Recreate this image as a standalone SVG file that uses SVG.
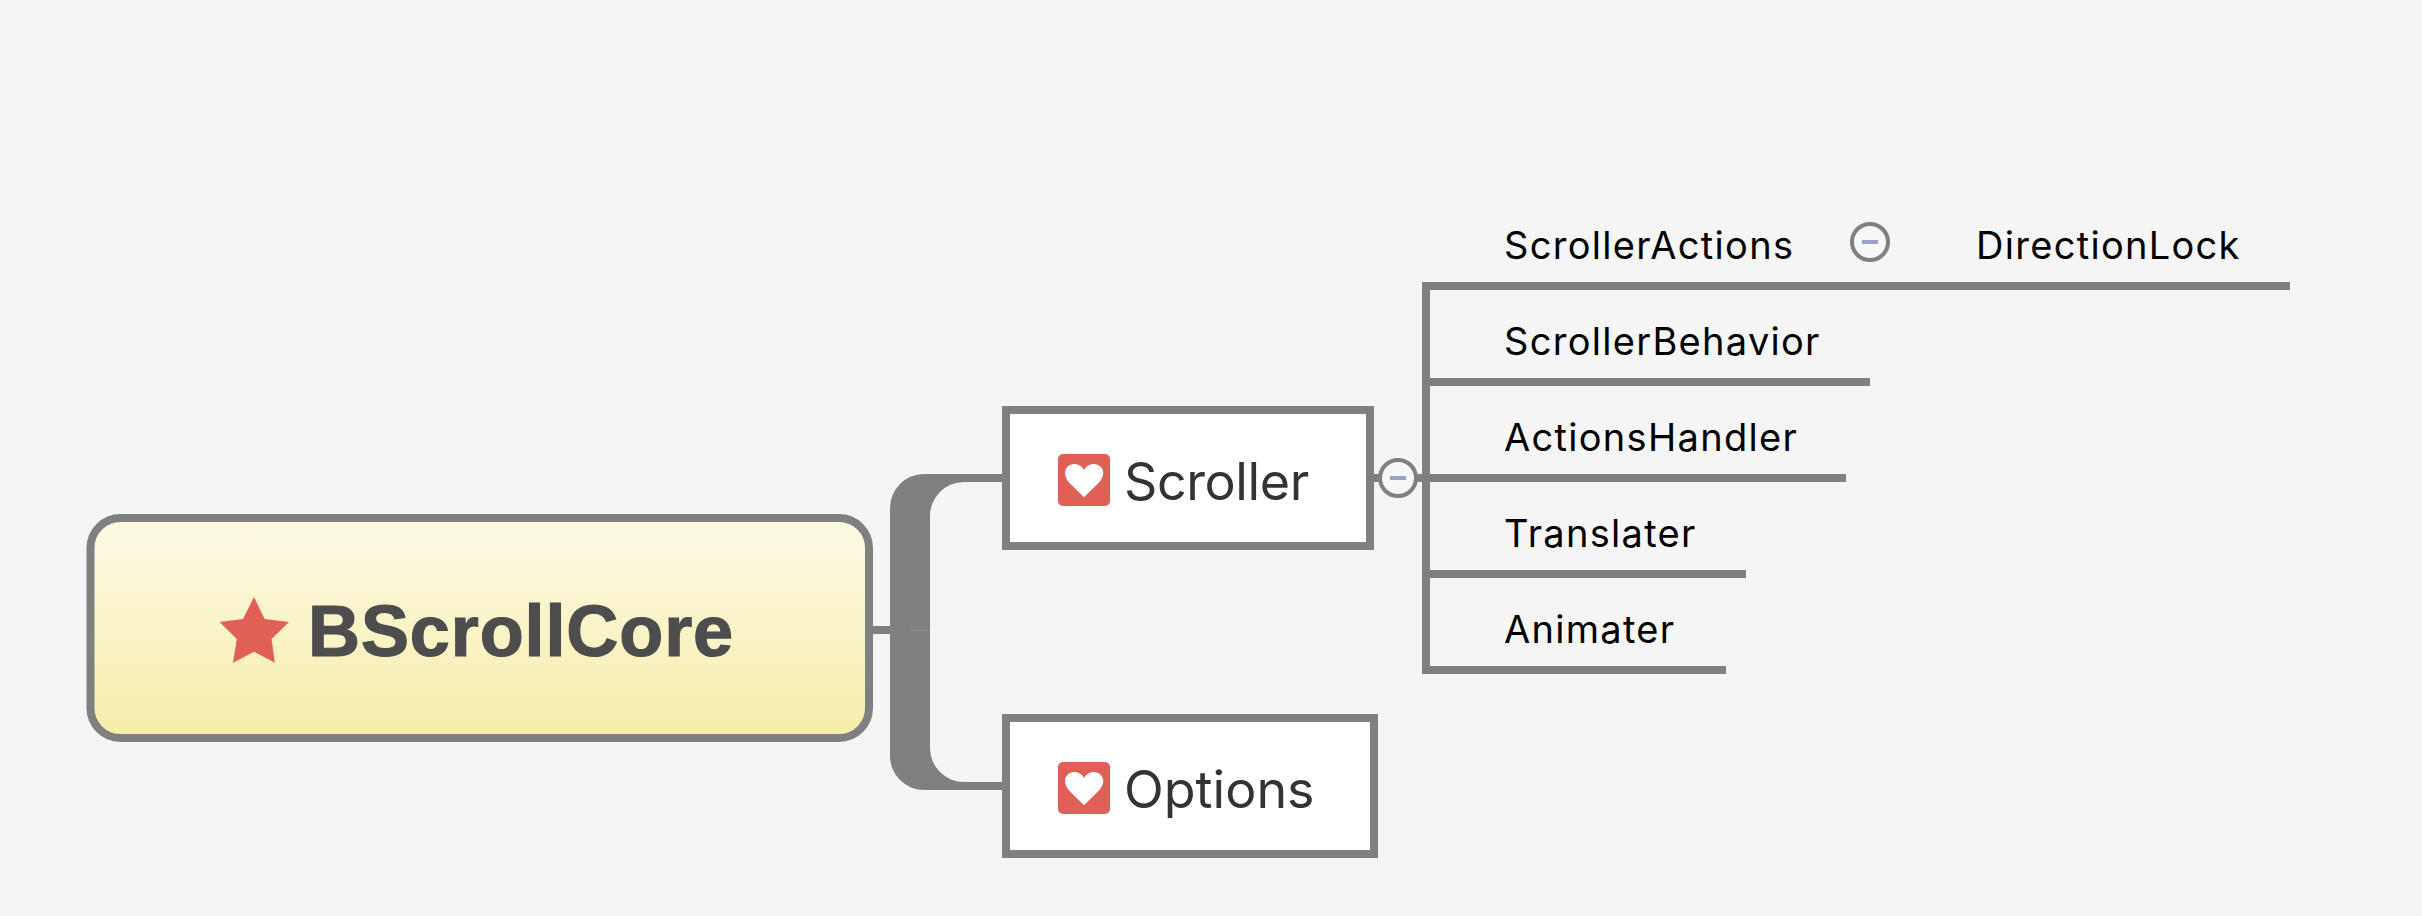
<svg xmlns="http://www.w3.org/2000/svg" xmlns:xlink="http://www.w3.org/1999/xlink" width="2422" height="916" viewBox="0 0 2422 916">
<style>
.line{fill:#808080;stroke:none}
.box{fill:#fff;stroke:#808080;stroke-width:8}
.t1{font-family:"Inter","Liberation Sans",sans-serif;font-size:52px;fill:#333}
.t2{font-family:"Inter","Liberation Sans",sans-serif;font-size:38px;letter-spacing:1.3px;fill:#000}
.root{font-family:"Liberation Sans",Arial,sans-serif;font-weight:700;font-size:72px;letter-spacing:.9px;fill:#4d4d4d;stroke:#4d4d4d;stroke-width:1.2px}
.fold{fill:#f7f7f7;stroke:#808080;stroke-width:4}
.minus{fill:#9aa3cc}
</style>
<defs>
<linearGradient id="rootFill" x1="0" y1="0" x2="0" y2="1"><stop offset="0" stop-color="#fdfae6"/><stop offset="1" stop-color="#f7edaa"/></linearGradient>
<g id="heartIcon"><rect width="52" height="52" rx="5" fill="#e05f57"/><path d="M26,43.3 L11,28.5 C9,26 7,23 7,19 C7,14 11,10 16.5,10 C20.5,10 24,12.5 26,16 C28,12.5 31.5,10 35.5,10 C41,10 45.3,14 45.3,19 C45.3,23 43,26 41,28.5 Z" fill="#fff"/></g>
</defs>
<rect width="2422" height="916" fill="#f5f5f5"/>
<g id="connectors">
<rect class="line" x="873" y="626" width="17" height="8"/>
<path class="line" d="M1002,474 H924 A34,34 0 0 0 890,508 V756 A34,34 0 0 0 924,790 H1002 V782 H964 A34,34 0 0 1 930,748 V516 A34,34 0 0 1 964,482 H1002 Z"/>
<rect x="910" y="630" width="20" height="0.6" fill="#9a9a9a"/>
<rect class="line" x="1374" y="474" width="6" height="8"/>
<rect class="line" x="1416" y="474" width="6" height="8"/>
<rect class="line" x="1422" y="282" width="8" height="392"/>
<rect class="line" x="1422" y="282" width="868" height="8"/>
<rect class="line" x="1422" y="378" width="448" height="8"/>
<rect class="line" x="1422" y="474" width="424" height="8"/>
<rect class="line" x="1422" y="570" width="324" height="8"/>
<rect class="line" x="1422" y="666" width="304" height="8"/>
</g>
<g id="node-root">
<rect x="90.5" y="518" width="778.5" height="220" rx="30" ry="30" fill="url(#rootFill)" stroke="#808080" stroke-width="8"/>
<path d="M254,597 L264.6,619 L289,622 L271.6,639 L274.8,662.7 L254,651.7 L233,662.7 L236.8,639 L219.6,622 L243,619 Z" fill="#e05f57"/>
<text class="root" x="308" y="656">BScrollCore</text>
</g>
<g id="node-scroller">
<rect class="box" x="1006" y="410" width="364" height="136"/>
<use xlink:href="#heartIcon" href="#heartIcon" x="1058" y="454"/>
<text class="t1" x="1124" y="500" letter-spacing="-.4">Scroller</text>
</g>
<g id="node-options">
<rect class="box" x="1006" y="718" width="368" height="136"/>
<use xlink:href="#heartIcon" href="#heartIcon" x="1058" y="762"/>
<text class="t1" x="1124" y="808">Options</text>
</g>
<g id="fold-scroller"><circle class="fold" cx="1398" cy="478" r="18"/><rect class="minus" x="1390" y="476" width="16" height="4"/></g>
<g id="fold-actions"><circle class="fold" cx="1870" cy="242" r="18"/><rect class="minus" x="1862" y="240" width="16" height="4"/></g>
<g id="node-scrollerActions"><text class="t2" x="1504" y="259">ScrollerActions</text></g>
<g id="node-directionLock"><text class="t2" x="1976" y="259">DirectionLock</text></g>
<g id="node-scrollerBehavior"><text class="t2" x="1504" y="355">ScrollerBehavior</text></g>
<g id="node-actionsHandler"><text class="t2" x="1504" y="451">ActionsHandler</text></g>
<g id="node-translater"><text class="t2" x="1504" y="547">Translater</text></g>
<g id="node-animater"><text class="t2" x="1504" y="643">Animater</text></g>
</svg>
